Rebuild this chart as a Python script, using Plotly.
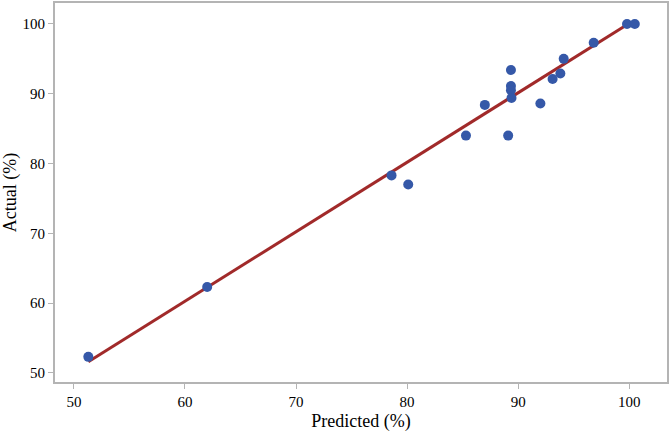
import plotly.graph_objects as go

# predicted vs actual values (%)
predicted = [51.3, 62.0, 78.6, 80.1, 85.3, 87.0, 89.1, 89.35, 89.35, 89.35, 89.4,
             92.0, 93.1, 93.8, 94.1, 96.8, 99.8, 100.5]
actual = [52.3, 62.3, 78.3, 77.0, 84.0, 88.4, 84.0, 93.4, 91.1, 90.5, 89.4,
          88.6, 92.1, 92.9, 95.0, 97.3, 100.0, 100.0]

fit_x = [51.3, 99.9]
fit_y = [51.6, 100.0]

fig = go.Figure()

fig.add_trace(go.Scatter(x=fit_x, y=fit_y, mode='lines',
                         line=dict(color='#A12A2A', width=3),
                         showlegend=False))

fig.add_trace(go.Scatter(x=predicted, y=actual, mode='markers',
                         marker=dict(color='#3558A8', size=10),
                         showlegend=False))

axis_style = dict(showline=True, linecolor='#B4B4B4', linewidth=2, mirror=True,
                  showgrid=False, zeroline=False, ticks='outside', ticklen=5,
                  tickcolor='#B4B4B4', tickwidth=1,
                  tickfont=dict(family='Liberation Serif', size=15, color='black'))

fig.update_xaxes(range=[48.3, 103.4], tickvals=[50, 60, 70, 80, 90, 100],
                 title=dict(text='Predicted (%)', standoff=8,
                            font=dict(family='Liberation Serif', size=18, color='black')),
                 **axis_style)
fig.update_yaxes(range=[48.7, 103.0], tickvals=[50, 60, 70, 80, 90, 100],
                 title=dict(text='Actual (%)', standoff=6,
                            font=dict(family='Liberation Serif', size=18, color='black')),
                 **axis_style)

fig.update_layout(width=670, height=432,
                  margin=dict(l=55, r=2, t=1, b=49),
                  plot_bgcolor='white', paper_bgcolor='white')

# drop the default page margin so the figure sits at the window's corner
fig.write_html("out.html", config={'displayModeBar': False},
               post_script="document.body.style.margin='0';")
